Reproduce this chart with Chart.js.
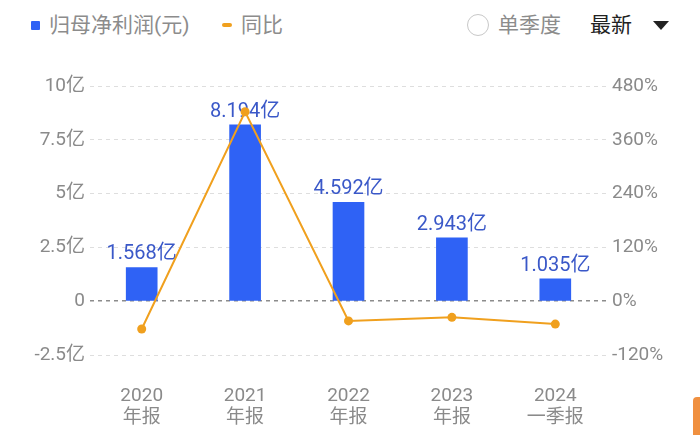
<!DOCTYPE html>
<html>
<head>
<meta charset="utf-8">
<script src="https://cdn.jsdelivr.net/npm/chart.js@4.4.1/dist/chart.umd.min.js"></script>
<style>
  html, body { margin:0; padding:0; background:#fff; }
  body { width:700px; height:435px; position:relative; overflow:hidden; font-family:Roboto,"Noto Sans CJK SC",sans-serif; }
  #chart { position:absolute; left:0; top:0; }
  .t { position:absolute; top:10px; height:30px; line-height:30px; font-size:21px; color:#8c8c8c; white-space:nowrap; }
  .sq { position:absolute; left:31px; top:21px; width:9px; height:9px; background:#2f62f5; border-radius:1px; }
  .dash { position:absolute; left:222px; top:23px; width:10px; height:4px; background:#f0a01e; border-radius:2px; }
  .radio { position:absolute; left:467px; top:14px; width:20px; height:20px; border:1px solid #c8c8c8; border-radius:50%; }
  .tri { position:absolute; left:653px; top:21px; width:0; height:0; border-left:8.5px solid transparent; border-right:8.5px solid transparent; border-top:9px solid #222; }
  .bar-r { position:absolute; left:693px; top:397px; width:8px; height:40px; background:#f09040; border-radius:4px 0 0 0; }
</style>
</head>
<body>
<div class="sq"></div><div class="t" style="left:49px;">归母净利润(元)</div>
<div class="dash"></div><div class="t" style="left:241px;">同比</div>
<div class="radio"></div><div class="t" style="left:498px;">单季度</div>
<div class="t" style="left:590px;color:#222;">最新</div><div class="tri"></div>
<canvas id="chart" width="700" height="435"></canvas>
<div class="bar-r"></div>
<script>
const categories = [['2020','年报'], ['2021','年报'], ['2022','年报'], ['2023','年报'], ['2024','一季报']];
const profit = [1.568, 8.194, 4.592, 2.943, 1.035];   // 亿元
const yoy = [-62, 422.6, -44, -36, -51];               // %
const leftTicks = [-2.5, 0, 2.5, 5, 7.5, 10];
const rightTicks = [-120, 0, 120, 240, 360, 480];

const FONT = 'Roboto,"Noto Sans CJK SC",sans-serif';

// value labels above the bars, drawn before the line so the line sits on top
const barLabels = {
  id: 'barLabels',
  afterDatasetDraw(chart, args){
    if(args.index !== 1) return;
    const ctx = chart.ctx;
    ctx.save();
    ctx.font = '20px ' + FONT;
    ctx.fillStyle = '#3a58c8';
    ctx.textAlign = 'center';
    ctx.textBaseline = 'alphabetic';
    args.meta.data.forEach((bar, i) => {
      ctx.fillText(profit[i].toFixed(3) + '亿', bar.x, bar.y - 8);
    });
    ctx.restore();
  }
};

new Chart(document.getElementById('chart'), {
  data: {
    labels: categories,
    datasets: [
      {
        type: 'line',
        data: yoy,
        yAxisID: 'y1',
        borderColor: '#f0a01e',
        backgroundColor: '#f0a01e',
        borderWidth: 2,
        pointRadius: 4.5,
        pointBackgroundColor: '#f0a01e',
        pointBorderWidth: 0,
        tension: 0,
        order: 0
      },
      {
        type: 'bar',
        data: profit,
        yAxisID: 'y',
        backgroundColor: '#2f62f5',
        barThickness: 31,
        order: 1
      }
    ]
  },
  options: {
    responsive: false,
    animation: false,
    layout: { padding: { top: 86, bottom: 0, left: 0, right: 0 } },
    plugins: { legend: { display: false }, tooltip: { enabled: false } },
    scales: {
      x: {
        grid: { display: false, drawTicks: false },
        border: { display: false },
        ticks: { color: '#8a8a8a', font: { size: 19, family: FONT, lineHeight: 1.15 }, padding: 30 },
        afterFit(s){ s.height = 80; }
      },
      y: {
        position: 'left',
        min: -2.5, max: 10,
        afterBuildTicks(s){ s.ticks = leftTicks.map(v => ({ value: v })); },
        grid: {
          drawTicks: false,
          color: c => c.tick && c.tick.value === 0 ? '#8c8c8c' : '#dedede',
          lineWidth: c => c.tick && c.tick.value === 0 ? 1.5 : 1
        },
        border: { display: false, dash: [4, 4] },
        ticks: {
          color: '#8a8a8a', font: { size: 19, family: FONT }, padding: 5,
          callback: v => v === 0 ? '0' : v + '亿'
        },
        afterFit(s){ s.width = 90; }
      },
      y1: {
        position: 'right',
        min: -120, max: 480,
        afterBuildTicks(s){ s.ticks = rightTicks.map(v => ({ value: v })); },
        grid: { display: false, drawTicks: false },
        border: { display: false },
        ticks: {
          color: '#8a8a8a', font: { size: 19, family: FONT }, padding: 5,
          callback: v => v + '%'
        },
        afterFit(s){ s.width = 93; }
      }
    }
  },
  plugins: [barLabels]
});
</script>
</body>
</html>
